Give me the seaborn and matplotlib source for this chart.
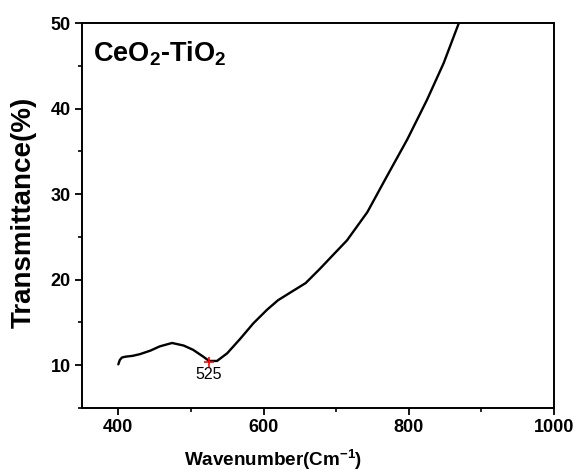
import matplotlib
matplotlib.use("Agg")
import matplotlib.pyplot as plt
import seaborn as sns
import pandas as pd
from matplotlib.ticker import MultipleLocator

# Data
wavenumber = [400, 402, 405, 410, 420, 430, 444, 457, 474, 490, 503, 517, 525,
              536, 550, 568, 586, 605, 620, 637, 658, 678, 697, 715, 743, 770,
              798, 825, 848, 869, 873]
transmittance = [10.1, 10.6, 10.9, 11.0, 11.1, 11.3, 11.7, 12.2, 12.6, 12.3,
                 11.8, 11.0, 10.5, 10.5, 11.4, 13.1, 14.9, 16.5, 17.6, 18.5,
                 19.6, 21.3, 23.0, 24.6, 27.9, 32.1, 36.4, 41.0, 45.3, 50.0, 50.8]
peak_x = [525]
peak_y = [10.4]
peak_label = ["525"]
sample_label = r"CeO$_2$-TiO$_2$"

sns.set_style("ticks")
plt.rcParams["font.family"] = ["Liberation Sans", "DejaVu Sans"]
plt.rcParams["mathtext.fontset"] = "custom"
plt.rcParams["mathtext.rm"] = "Liberation Sans:bold"
plt.rcParams["mathtext.it"] = "Liberation Sans:bold"
plt.rcParams["mathtext.bf"] = "Liberation Sans:bold"
plt.rcParams["mathtext.default"] = "regular"
plt.rcParams["text.color"] = "black"
plt.rcParams["axes.labelcolor"] = "black"
plt.rcParams["xtick.color"] = "black"
plt.rcParams["ytick.color"] = "black"

fig = plt.figure(figsize=(5.79, 4.72), dpi=100)
ax = fig.add_axes([82/579, 1-408/472, (554-82)/579, (408-23)/472])

df = pd.DataFrame({"wn": wavenumber, "T": transmittance})
sns.lineplot(data=df, x="wn", y="T", ax=ax, color="black", linewidth=1.7,
             sort=False, estimator=None)
ax.plot(peak_x, peak_y, marker="+", color="red", markersize=7, mew=1.2, ls="none")
for px, py, lab in zip(peak_x, peak_y, peak_label):
    ax.text(px, py - 0.6, lab, ha="center", va="top", fontsize=11.5,
            fontweight="normal", color="black")

ax.text(365, 45.5, sample_label, ha="left", va="baseline", fontsize=19.5,
        fontweight="bold", color="black")

ax.set_xlim(350, 1000)
ax.set_ylim(5, 50)
ax.xaxis.set_major_locator(MultipleLocator(200))
ax.xaxis.set_minor_locator(MultipleLocator(100))
ax.yaxis.set_major_locator(MultipleLocator(10))
ax.yaxis.set_minor_locator(MultipleLocator(5))
ax.tick_params(which="major", direction="out", length=5, width=1.3,
               labelsize=13, pad=3)
ax.tick_params(which="minor", direction="out", length=3, width=1.2)
for lab in ax.get_xticklabels() + ax.get_yticklabels():
    lab.set_fontweight("bold")
for sp in ax.spines.values():
    sp.set_visible(True)
    sp.set_linewidth(1.4)
    sp.set_color("black")

ax.set_xlabel(r"Wavenumber(Cm$^{-1}$)", fontsize=13.6, fontweight="bold")
ax.set_ylabel("Transmittance(%)", fontsize=20, fontweight="bold")
ax.xaxis.set_label_coords((273-82)/472, -(466-408)/385, transform=ax.transAxes)
ax.yaxis.set_label_coords(-(82-24)/472, (408-212)/385, transform=ax.transAxes)
ax.xaxis.label.set_va("baseline")
ax.yaxis.label.set_va("center")

fig.savefig("out.png", dpi=100)
